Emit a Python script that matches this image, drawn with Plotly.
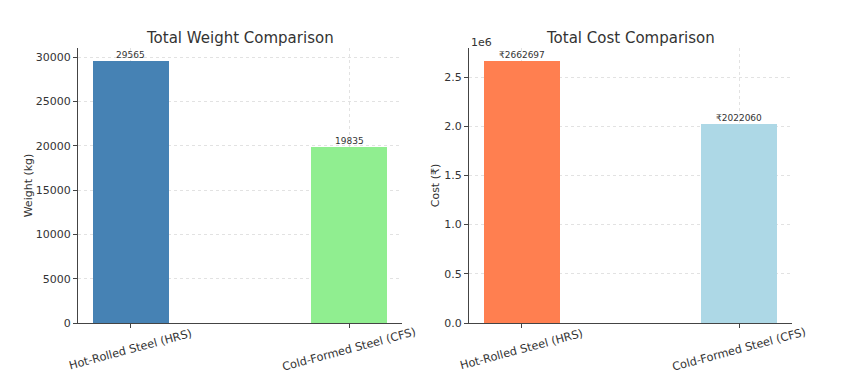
import plotly.graph_objects as go

categories = ["Hot-Rolled Steel (HRS)", "Cold-Formed Steel (CFS)"]
weights = [29565, 19835]
costs = [2662697, 2022060]
weight_colors = ["#4682B4", "#90EE90"]
cost_colors = ["#FF7F50", "#ADD8E6"]
weight_ticks = [0, 5000, 10000, 15000, 20000, 25000, 30000]
weight_tick_text = ["0", "5000", "10000", "15000", "20000", "25000", "30000"]
cost_ticks = [0, 500000, 1000000, 1500000, 2000000, 2500000]
cost_tick_text = ["0.0", "0.5", "1.0", "1.5", "2.0", "2.5"]

FONT = "DejaVu Sans"
TXT = "#333333"
xpos = list(range(len(categories)))
bw = 0.35

# page body has an 8px margin; work in reference pixels and convert
W, H, OFF = 833, 374, 8
def px(x):
    return (x - OFF) / W
def py(y):
    return 1 - (y - OFF) / H

fig = go.Figure()
fig.add_trace(go.Bar(
    x=xpos, y=weights, width=bw, marker=dict(color=weight_colors, line=dict(width=0)),
    xaxis="x", yaxis="y", showlegend=False))
fig.add_trace(go.Bar(
    x=xpos, y=costs, width=bw, marker=dict(color=cost_colors, line=dict(width=0)),
    xaxis="x2", yaxis="y2", showlegend=False))

xr = [-bw / 2 - 0.05 * (1 + bw), 1 + bw / 2 + 0.05 * (1 + bw)]
ax_common = dict(showline=True, linecolor="#444444", linewidth=1, ticks="outside",
                 ticklen=4, tickcolor="#444444", tickfont=dict(size=11, color=TXT, family=FONT),
                 showgrid=True, gridcolor="rgba(190,190,190,0.45)", griddash="dot", gridwidth=1,
                 zeroline=False, layer="above traces", automargin=False)

annotations = [
    dict(text="Total Weight Comparison", x=px((78 + 402) / 2), y=py(38),
         xref="paper", yref="paper", showarrow=False, font=dict(size=15, color=TXT),
         xanchor="center", yanchor="middle"),
    dict(text="Total Cost Comparison", x=px((469 + 792) / 2), y=py(38),
         xref="paper", yref="paper", showarrow=False, font=dict(size=15, color=TXT),
         xanchor="center", yanchor="middle"),
    dict(text="1e6", x=px(469), y=py(42), xref="paper", yref="paper",
         showarrow=False, font=dict(size=11, color=TXT), xanchor="left", yanchor="middle"),
]
for xa in ["x", "x2"]:
    for i, c in enumerate(categories):
        annotations.append(dict(text=c, x=xpos[i], xref=xa, y=py(349), yref="paper",
                                showarrow=False, textangle=-15,
                                font=dict(size=11.3, color=TXT, family=FONT),
                                xanchor="center", yanchor="middle"))
for i, v in enumerate(weights):
    annotations.append(dict(text=str(v), x=xpos[i], y=v, xref="x", yref="y",
                            showarrow=False, xanchor="center", yanchor="bottom",
                            borderpad=0, font=dict(size=9, color=TXT, family=FONT)))
for i, v in enumerate(costs):
    annotations.append(dict(text="₹" + str(v), x=xpos[i], y=v, xref="x2", yref="y2",
                            showarrow=False, xanchor="center", yanchor="bottom",
                            borderpad=0, font=dict(size=9, color=TXT, family=FONT)))

fig.update_layout(
    width=W, height=H, margin=dict(l=0, r=0, t=0, b=0),
    plot_bgcolor="white", paper_bgcolor="white", bargap=0,
    font=dict(family=FONT, color=TXT),
    xaxis=dict(domain=[px(78), px(402)], range=xr, tickvals=xpos, showticklabels=False,
               anchor="y", **ax_common),
    yaxis=dict(domain=[py(323), py(48)], range=[0, max(weights) * 1.05],
               tickvals=weight_ticks, ticktext=weight_tick_text, anchor="x",
               title=dict(text="Weight (kg)", font=dict(size=11, color=TXT), standoff=0),
               **ax_common),
    xaxis2=dict(domain=[px(469), px(792)], range=xr, tickvals=xpos, showticklabels=False,
                anchor="y2", **ax_common),
    yaxis2=dict(domain=[py(323), py(48)], range=[0, max(costs) * 1.05],
                tickvals=cost_ticks, ticktext=cost_tick_text, anchor="x2",
                title=dict(text="Cost (₹)", font=dict(size=11, color=TXT), standoff=2),
                **ax_common),
    annotations=annotations,
)

fig.write_html("out.html")
